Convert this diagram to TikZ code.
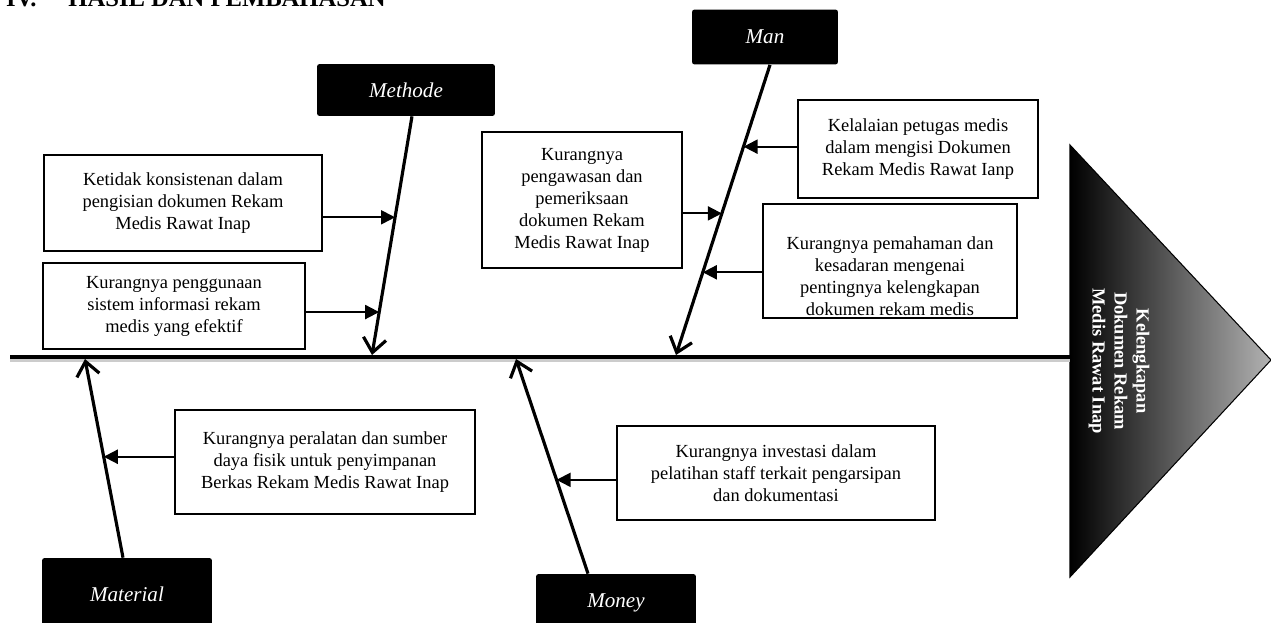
\documentclass[tikz,border=0pt]{standalone}
\usepackage{fontspec}
\setmainfont{Liberation Serif}
\usetikzlibrary{arrows.meta, positioning, calc}
\definecolor{headgrey}{HTML}{B2B2B2}

\begin{document}
\begin{tikzpicture}[x=0.02cm, y=-0.02cm,
        causebox/.style={draw, line width=1.1pt, align=center, inner sep=2pt,
            font=\fontsize{10.5}{12.5}\selectfont},
        category/.style={fill=black, rounded corners=1.5pt, text=white,
            font=\itshape\fontsize{12}{14}\selectfont},
        bone/.style={line width=1.8pt, -{Straight Barb[length=8pt, width=13pt]}},
        feed/.style={line width=1.1pt, -{Triangle[length=8pt, width=8pt]}}]
    \useasboundingbox (0,0) rectangle (1271,622);
    \node[anchor=base west, font=\bfseries\fontsize{14}{16}\selectfont] (title) at (0,7)
        {IV.\hspace{0.64cm}HASIL DAN PEMBAHASAN};

    % kepala ikan
    \coordinate (htop) at (1070,145);
    \coordinate (hbot) at (1070,577);
    \coordinate (hapex) at (1271,360);
    \shade[left color=black, right color=headgrey, draw=black, line width=0.6pt]
        (htop) -- (hapex) -- (hbot) -- cycle;
    \node[rotate=-90, text=white, align=center, font=\bfseries\fontsize{10.5}{12.5}\selectfont]
        (effect) at (1119,361) {Kelengkapan\\Dokumen Rekam\\Medis Rawat Inap};

    % tulang utama
    \coordinate (tail) at (10,357);
    \draw[black!20, line width=2.4pt] ([yshift=-1.8pt]tail) -- ([yshift=-1.8pt]tail -| htop);
    \draw[line width=2.6pt] (tail) -- (tail -| htop);

    % kategori
    \node[category, minimum width=3.56cm, minimum height=1.04cm] (methode) at (406,90) {Methode};
    \node[category, minimum width=2.92cm, minimum height=1.1cm] (man) at (765,37) {Man};
    \node[category, minimum width=3.4cm, minimum height=1.44cm] (material) at (127,594) {Material};
    \node[category, minimum width=3.2cm, minimum height=1.16cm] (money) at (616,603) {Money};

    \coordinate (methodefoot) at (372,355);
    \coordinate (manfoot) at (676,355);
    \coordinate (materialfoot) at (85,359);
    \coordinate (moneyfoot) at (516,359);

    \draw[bone] ([xshift=0.12cm]methode.south) -- coordinate[pos=0.423] (mt1)
        coordinate[pos=0.82] (mt2) (methodefoot);
    \draw[bone] ([xshift=0.1cm]man.south) -- coordinate[pos=0.282] (mn1)
        coordinate[pos=0.512] (mn2) coordinate[pos=0.715] (mn3) (manfoot);
    \draw[bone] ([xshift=-0.08cm]material.north) -- coordinate[pos=0.508] (ma1) (materialfoot);
    \draw[bone] ([xshift=-0.56cm]money.north) -- coordinate[pos=0.437] (mo1) (moneyfoot);

    % penyebab
    \node[causebox, minimum width=5.56cm, minimum height=1.92cm] (k1) at (183,203)
        {Ketidak konsistenan dalam\\pengisian dokumen Rekam\\Medis Rawat Inap};
    \node[causebox, minimum width=5.24cm, minimum height=1.72cm] (k2) at (174,306)
        {Kurangnya penggunaan\\sistem informasi rekam\\medis yang efektif};
    \node[causebox, minimum width=4cm, minimum height=2.72cm] (k3) at (582,200)
        {Kurangnya\\pengawasan dan\\pemeriksaan\\dokumen Rekam\\Medis Rawat Inap};
    \node[causebox, minimum width=4.8cm, minimum height=1.96cm] (k4) at (918,149)
        {Kelalaian petugas medis\\dalam mengisi Dokumen\\Rekam Medis Rawat Ianp};
    \node[causebox, minimum width=5.08cm, minimum height=2.28cm] (k5) at (890,261) {};
    \node[align=center, inner sep=0pt, anchor=south, font=\fontsize{10.5}{12.5}\selectfont]
        (k5text) at ([yshift=1.5pt]k5.south)
        {Kurangnya pemahaman dan\\kesadaran mengenai\\pentingnya kelengkapan\\dokumen rekam medis};
    \node[causebox, minimum width=6cm, minimum height=2.08cm] (k6) at (325,462)
        {Kurangnya peralatan dan sumber\\daya fisik untuk penyimpanan\\Berkas Rekam Medis Rawat Inap};
    \node[causebox, minimum width=6.36cm, minimum height=1.88cm] (k7) at (776,473)
        {Kurangnya investasi dalam\\pelatihan staff terkait pengarsipan\\dan dokumentasi};

    \draw[feed] (k1.east |- mt1) -- (mt1);
    \draw[feed] (k2.east |- mt2) -- (mt2);
    \draw[feed] (k4.west |- mn1) -- (mn1);
    \draw[feed] (k3.east |- mn2) -- (mn2);
    \draw[feed] (k5.west |- mn3) -- (mn3);
    \draw[feed] (k6.west |- ma1) -- (ma1);
    \draw[feed] (k7.west |- mo1) -- (mo1);
\end{tikzpicture}
\end{document}
